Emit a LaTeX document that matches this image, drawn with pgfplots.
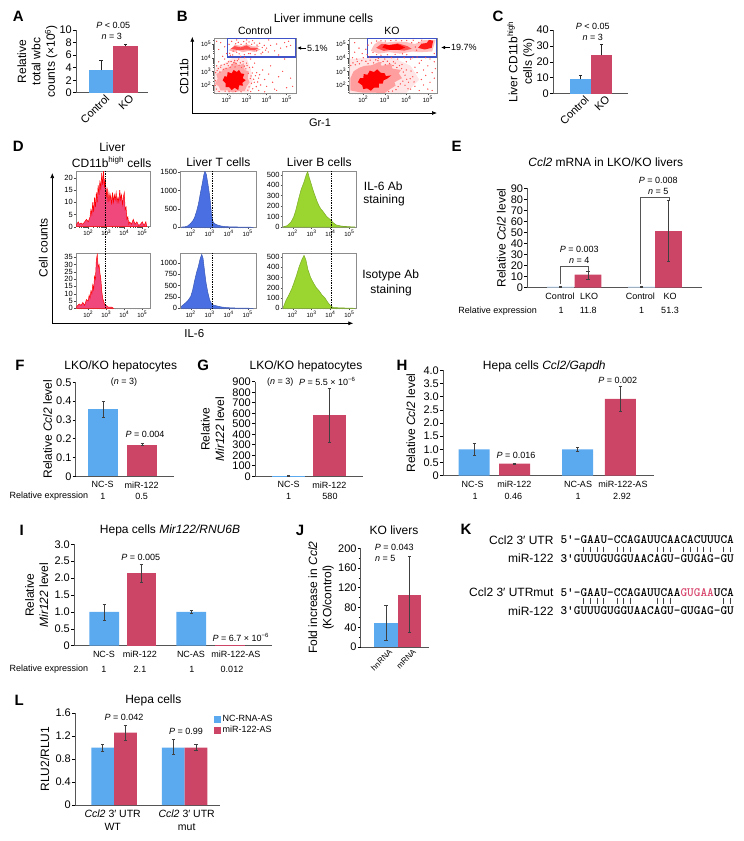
\documentclass[border=0pt]{standalone}
\usepackage{fontspec}
\setmainfont{Liberation Sans}
\usepackage{pgfplots}
\pgfplotsset{compat=1.18}
\usetikzlibrary{arrows.meta}

\definecolor{mblue}{HTML}{5BA9EF}
\definecolor{mred}{HTML}{CC4566}
\definecolor{gate}{HTML}{3F52C8}
\definecolor{hpink}{HTML}{F0487C}
\definecolor{hblue}{HTML}{4A6FE3}
\definecolor{hgreen}{HTML}{9AD62F}
\definecolor{axgray}{HTML}{555555}
\definecolor{framegray}{HTML}{8C8C8C}

\newcommand{\fs}[1]{\fontsize{#1}{\dimexpr #1pt*6/5\relax}\selectfont}
\newcommand{\Pv}{\textit{P}}
\newcommand{\Nv}{\textit{n}}
\newcommand{\logminor}{1.48,1.6,1.7,1.78,1.85,1.9,1.95,2.3,2.48,2.6,2.7,2.78,2.85,2.9,2.95,3.3,3.48,3.6,3.7,3.78,3.85,3.9,3.95,4.3,4.48,4.6,4.7,4.78,4.85,4.9,4.95,5.3}

\pgfplotsset{
  barax/.style={
    scale only axis, axis lines=left, axis line style={-,line width=0.8pt,color=axgray},
    enlargelimits=false, clip=false,
    /pgf/number format/assume math mode=true,
    tick style={color=black,line width=0.6pt}, major tick length=3pt, tick align=outside,
    x tick style={draw=none}, xtick pos=bottom, ytick pos=left,
    yticklabel style={font=\fs{11},inner sep=1pt},
    xticklabel style={font=\fs{9},inner sep=2pt},
    ylabel style={font=\fs{12},align=center,inner sep=1pt},
  },
  rotlab/.style={xticklabel style={font=\fs{11},rotate=45,anchor=north east,inner sep=1pt,xshift=5pt}},
  errs/.style={
    error bars/y dir=both, error bars/y explicit,
    error bars/error bar style={line width=0.6pt,color=black!75},
    error bars/error mark options={rotate=90,mark size=1.7pt,line width=0.6pt,color=black!75},
  },
  errup/.style={
    error bars/y dir=plus, error bars/y explicit,
    error bars/error bar style={line width=0.8pt,color=black!85},
    error bars/error mark options={rotate=90,mark size=1.7pt,line width=0.8pt,color=black!85},
  },
  bluebar/.style={ybar,bar width=#1,bar shift=0pt,fill=mblue,draw=none,forget plot},
  redbar/.style={ybar,bar width=#1,bar shift=0pt,fill=mred,draw=none,forget plot},
  flowax/.style={
    scale only axis, enlargelimits=false, clip=true,
    axis line style={color=framegray,line width=0.8pt},
    tick style={color=black!70,line width=0.3pt}, tick align=outside,
    major tick length=2pt, minor tick length=1pt,
    xtick={2,3,4,5}, ytick={2,3,4,5}, minor xtick=\logminor, minor ytick=\logminor,
    xtick pos=bottom, ytick pos=left,
    xticklabels={10\textsuperscript{2},10\textsuperscript{3},10\textsuperscript{4},10\textsuperscript{5}},
    yticklabels={10\textsuperscript{2},10\textsuperscript{3},10\textsuperscript{4},10\textsuperscript{5}},
    ticklabel style={font=\fs{6},inner sep=1pt},
  },
  histax/.style={
    scale only axis, enlargelimits=false, clip=true,
    axis line style={color=framegray,line width=0.8pt},
    /pgf/number format/assume math mode=true,
    /pgf/number format/1000 sep={},
    tick style={color=black!70,line width=0.3pt}, tick align=outside,
    major tick length=2pt, minor tick length=1pt,
    xtick={2,3,4,5}, minor xtick=\logminor,
    xtick pos=bottom, ytick pos=left,
    xticklabels={10\textsuperscript{2},10\textsuperscript{3},10\textsuperscript{4},10\textsuperscript{5}},
    ticklabel style={font=\fs{7.5},inner sep=1pt},
    xticklabel style={font=\fs{6}},
    ymin=0,
  },
  dots/.style={only marks,mark=*,mark size=0.4pt,color=red!70,mark options={draw=none}},
}

\begin{document}
\begin{tikzpicture}[x=1pt,y=-1pt]
\path[use as bounding box] (0,0) rectangle (744,841);

% ---------- A
\begin{axis}[barax,rotlab,at={(76pt,-92.7pt)},anchor=south west,width=72pt,height=62.7pt,
  xmin=76,xmax=148,ymin=0,ymax=10,ytick={0,2,4,6,8,10},
  xtick={101,125.5},xticklabels={Control,KO},
  ylabel={Relative\\total wbc\\counts (×10\textsuperscript{6})}]
\addplot[bluebar=24.6pt,errup] coordinates {(101,3.6) +- (0,1.6)};
\addplot[redbar=24.4pt,errup] coordinates {(125.5,7.4) +- (0,0.3)};
\end{axis}

% ---------- B
\begin{axis}[flowax,at={(214.3pt,-93.3pt)},anchor=south west,width=81.7pt,height=55pt,
  xmin=1.38,xmax=5.47,ymin=1.39,ymax=5.42]
\addplot[fill=red!10,draw=none] coordinates {(1.4,1.45)(3.1,1.45)(3.3,2.3)(3.2,3.2)(3.0,3.95)(2.3,4.0)(1.9,3.6)(1.4,3.2)} --cycle;
\addplot[fill=red!35,draw=none] coordinates {(1.42,2.1)(1.6,1.9)(1.7,1.6)(2.0,1.62)(2.3,1.45)(2.6,1.55)(2.9,1.55)(3.0,1.9)(3.15,2.2)(3.05,2.5)(3.1,3.0)(2.9,3.1)(2.85,3.6)(2.6,3.4)(2.4,3.75)(2.15,3.3)(1.85,3.2)(1.75,3.0)(1.48,2.8)(1.55,2.45)} --cycle;
\addplot[fill=red,draw=none] coordinates {(1.8,2.35)(1.9,2.65)(2.02,2.6)(2.05,2.95)(2.25,2.85)(2.35,3.1)(2.5,2.95)(2.62,3.1)(2.72,2.85)(2.88,2.8)(2.8,2.5)(2.95,2.35)(2.78,2.15)(2.82,1.95)(2.62,1.98)(2.58,1.62)(2.4,1.8)(2.25,1.62)(2.12,1.85)(1.95,1.85)(1.95,2.12)} --cycle;
\addplot[fill=red!30,draw=none] coordinates {(2.1,4.55)(2.4,4.4)(2.55,4.55)(2.8,4.4)(3.1,4.5)(3.4,4.42)(3.7,4.6)(3.5,4.7)(3.65,4.85)(3.3,4.82)(3.0,5.0)(2.75,4.85)(2.4,4.95)(2.3,4.75)} --cycle;
\addplot[fill=red!70,draw=none] coordinates {(2.2,4.65)(2.6,4.55)(3.0,4.6)(3.4,4.55)(3.6,4.7)(3.2,4.72)(3.0,4.9)(2.7,4.75)(2.4,4.85)} --cycle;
\addplot[dots] coordinates {(1.5,3.4)(1.6,3.7)(1.7,3.3)(1.8,4.1)(1.9,3.9)(2.0,4.3)(2.1,3.7)(2.3,4.2)(2.4,3.8)(2.5,4.4)(2.6,3.9)(2.7,4.1)(2.9,4.0)(3.0,3.6)(3.1,4.3)(3.2,3.9)(3.3,3.3)(3.4,3.6)(3.5,2.9)(3.6,2.5)(3.7,2.0)(3.8,3.1)(3.9,2.4)(4.0,1.9)(4.1,2.8)(4.2,3.4)(4.3,2.2)(4.4,1.7)(4.6,2.6)(4.8,3.0)(5.0,1.8)(5.2,2.5)(3.5,4.5)(3.8,4.4)(4.0,4.7)(4.2,4.9)(4.4,4.5)(4.5,5.0)(4.7,4.7)(4.9,5.1)(5.0,4.8)(5.1,5.2)(5.2,4.9)(4.6,4.2)(4.9,3.9)(3.0,5.3)(2.5,5.3)(1.6,4.6)(1.7,5.1)(1.9,4.8)(1.5,5.2)(3.3,5.25)(4.1,5.3)(3.6,1.6)(3.9,1.5)(4.5,1.6)(5.3,1.9)
(1.45,2.9)(1.52,3.05)(1.58,3.2)(1.66,2.95)(1.72,3.45)(1.83,3.15)(1.88,3.5)(1.97,3.22)(2.02,3.58)(2.08,3.41)(2.17,3.3)(2.22,3.72)(2.27,3.48)(2.36,3.66)(2.42,3.32)(2.47,3.58)(2.53,3.78)(2.62,3.45)(2.68,3.62)(2.74,3.28)(2.82,3.72)(2.88,3.38)(2.96,3.18)(3.02,3.42)(3.08,2.86)(3.14,3.28)(3.22,2.66)(3.18,2.48)(3.28,2.88)(3.35,2.42)(3.24,2.12)(3.38,2.2)(3.44,2.68)(3.12,1.86)(3.3,1.72)(3.06,1.62)(3.2,1.52)(3.48,1.88)(3.55,2.22)(3.65,2.75)(2.72,1.5)(2.45,1.52)(2.12,1.5)(1.92,1.55)(1.62,1.52)(1.48,1.7)(1.42,1.98)(1.44,2.32)
(2.15,4.32)(2.32,4.48)(2.45,5.02)(2.58,5.12)(2.72,4.98)(2.85,5.18)(2.98,5.06)(3.12,5.15)(3.25,4.98)(3.38,5.08)(3.52,4.92)(3.65,5.06)(3.78,4.75)(3.88,4.9)(3.95,4.55)(4.08,4.42)(2.25,5.2)(2.12,4.98)(2.18,4.18)(2.62,4.28)(2.88,4.22)(3.18,4.3)(3.42,4.22)(3.72,4.28)} ;
\addplot[draw=gate,line width=1.2pt,clip=false] coordinates {(2.05,5.42)(5.47,5.42)(5.47,4.05)(2.05,4.05)} --cycle;
\end{axis}

\begin{axis}[flowax,at={(349.3pt,-93.3pt)},anchor=south west,width=88pt,height=55pt,
  xmin=1.35,xmax=5.44,ymin=1.39,ymax=5.42]
\addplot[fill=red!10,draw=none] coordinates {(1.36,1.42)(4.0,1.42)(4.6,2.4)(4.2,3.4)(3.4,4.0)(2.4,4.0)(1.36,3.9)} --cycle;
\addplot[fill=red!38,draw=none] coordinates {(1.4,1.6)(1.9,1.45)(3.0,1.42)(3.25,1.7)(3.5,1.95)(3.45,2.2)(3.8,2.5)(3.65,2.85)(3.75,3.1)(3.35,3.2)(3.3,3.55)(2.85,3.4)(2.75,3.7)(2.4,3.45)(2.05,3.4)(1.8,3.25)(1.55,3.0)(1.4,2.5)} --cycle;
\addplot[fill=red,draw=none] coordinates {(1.75,2.2)(1.85,2.5)(2.0,2.5)(2.02,2.8)(2.2,2.75)(2.3,3.05)(2.5,2.95)(2.65,3.15)(2.8,2.9)(3.0,2.85)(3.05,2.65)(3.3,2.7)(3.1,2.45)(2.95,2.35)(2.9,2.1)(2.72,2.1)(2.72,1.8)(2.5,1.8)(2.35,1.58)(2.18,1.75)(2.0,1.7)(1.95,1.98)} --cycle;
\addplot[fill=red!25,draw=none] coordinates {(2.35,4.5)(2.7,4.3)(3.2,4.4)(3.7,4.3)(4.3,4.45)(4.6,4.4)(5.2,4.45)(5.36,5.3)(4.8,5.28)(4.4,5.0)(4.0,5.15)(3.5,5.18)(3.1,5.12)(2.7,5.2)(2.5,4.95)} --cycle;
\addplot[fill=red!70,draw=none] coordinates {(2.6,4.72)(2.95,4.5)(3.4,4.6)(3.9,4.52)(4.25,4.65)(4.05,4.85)(3.6,5.05)(3.2,4.92)(2.85,5.02)} --cycle;
\addplot[fill=red,draw=none] coordinates {(2.88,4.75)(3.2,4.58)(3.7,4.58)(3.95,4.75)(3.6,5.0)(3.2,4.92)(3.0,4.98)} --cycle;
\addplot[fill=red!90,draw=none] coordinates {(4.55,4.72)(4.85,4.6)(5.18,4.72)(5.25,5.25)(5.05,5.3)(4.95,5.08)(4.7,5.02)} --cycle;
\addplot[dots] coordinates {(1.5,4.0)(1.6,4.4)(1.7,3.9)(1.8,4.7)(1.6,5.1)(3.4,3.7)(3.6,3.9)(3.8,3.5)(4.0,3.7)(4.2,3.9)(4.4,3.3)(4.6,3.6)(4.8,3.1)(5.0,3.4)(5.2,2.9)(4.3,2.6)(4.5,2.9)(4.7,2.4)(4.9,2.7)(5.1,2.2)(5.3,2.5)(4.4,1.9)(4.6,1.6)(4.8,2.0)(5.0,1.7)(5.2,1.6)(4.2,1.7)(4.1,2.2)(4.0,3.1)(3.9,4.0)(3.3,4.0)(3.0,3.9)(2.7,3.95)(2.3,4.05)(2.0,4.0)(4.3,4.0)(4.5,4.05)(4.7,3.8)(4.9,4.0)(5.1,3.9)(5.3,3.7)(5.35,3.2)
(1.42,3.42)(1.52,3.62)(1.63,3.48)(1.72,3.72)(1.82,3.55)(1.93,3.78)(2.12,3.74)(2.22,3.56)(2.32,3.82)(2.48,3.62)(2.58,3.84)(2.68,3.78)(2.82,3.62)(2.92,3.72)(3.02,3.48)(3.12,3.74)(3.22,3.58)(3.38,3.42)(3.48,3.6)(3.56,3.28)(3.68,3.42)(3.78,3.2)(3.86,2.95)(3.94,2.72)(4.02,2.42)(3.84,2.28)(3.72,2.08)(3.62,1.88)(3.52,1.66)(3.36,1.55)(3.18,1.52)(3.94,1.98)(4.08,1.72)(4.18,2.46)(4.22,3.02)(4.36,2.22)
(1.95,4.3)(2.12,4.62)(2.22,4.92)(2.38,5.08)(2.45,4.38)(2.62,5.22)(2.82,5.24)(3.02,5.22)(3.28,5.26)(3.52,5.28)(3.78,5.24)(4.02,5.26)(4.25,5.1)(4.42,4.78)(4.48,4.55)(4.32,5.28)(4.58,5.12)(4.72,5.28)(3.82,4.28)(4.02,4.22)(3.48,4.24)(3.12,4.22)(2.82,4.18)(2.62,4.22)(2.18,4.22)(5.3,4.3)} ;
\addplot[draw=gate,line width=1.2pt,clip=false] coordinates {(2.2,5.42)(5.4,5.42)(5.4,4.05)(2.2,4.05)} --cycle;
\end{axis}

% ---------- C
\begin{axis}[barax,rotlab,at={(553pt,-93.7pt)},anchor=south west,width=74.7pt,height=63.7pt,
  xmin=553,xmax=627.7,ymin=0,ymax=40,ytick={0,10,20,30,40},
  xtick={580.5,601.5},xticklabels={Control,KO},
  ylabel={Liver CD11b\textsuperscript{high}\\cells (\%)}]
\addplot[bluebar=21pt,errup] coordinates {(580.5,9) +- (0,2.5)};
\addplot[redbar=21pt,errup] coordinates {(601.5,24) +- (0,7)};
\end{axis}

% ---------- D histograms
\begin{axis}[histax,at={(76pt,-226.7pt)},anchor=south west,width=74pt,height=55.7pt,
  xmin=1.32,xmax=5.43,ymax=22.8,ytick={0,5,10,15,20}]
\addplot[fill=hpink,draw=red,line width=0.5pt] coordinates {(1.35,1)(1.45,2)(1.5,1)(1.6,1.5)(1.7,1)(1.8,2)(1.9,3)(2.0,2)(2.1,4)(2.15,7)(2.2,5)(2.25,10)(2.3,6)(2.35,12)(2.4,8)(2.45,14)(2.5,10)(2.55,17)(2.6,13)(2.65,19)(2.7,15)(2.75,22)(2.8,17)(2.85,23)(2.9,16)(2.95,20)(3.0,12)(3.05,16)(3.1,10)(3.15,14)(3.2,11)(3.25,13)(3.3,9)(3.35,14)(3.4,10)(3.45,13)(3.5,11)(3.55,14)(3.6,10)(3.65,12)(3.7,10)(3.75,15)(3.8,11)(3.85,13)(3.9,9)(3.95,12)(4.0,14)(4.05,7)(4.1,8)(4.15,3)(4.2,4)(4.25,1)(4.3,2)(4.4,1)(4.5,3)(4.6,1)(4.7,2)(4.8,0.5)(4.9,1)(5.0,2)(5.1,0.5)(5.2,2)(5.25,0)} \closedcycle;
\end{axis}
\begin{axis}[histax,at={(76pt,-308.3pt)},anchor=south west,width=74pt,height=55pt,
  xmin=1.32,xmax=5.43,ymax=37.7,ytick={0,5,10,15,20,25,30,35}]
\addplot[fill=hpink,draw=red,line width=0.5pt] coordinates {(1.35,1)(1.5,3)(1.6,2)(1.7,4)(1.8,2)(1.9,6)(2.0,5)(2.05,9)(2.1,7)(2.15,12)(2.2,10)(2.25,16)(2.3,13)(2.35,22)(2.4,20)(2.45,33)(2.5,37)(2.55,28)(2.6,30)(2.65,24)(2.7,20)(2.75,12)(2.8,7)(2.85,5)(2.9,3)(2.95,2)(3.0,2)(3.1,0.8)(3.3,0.8)(3.4,0)} \closedcycle;
\end{axis}
\begin{axis}[histax,at={(180.3pt,-227.3pt)},anchor=south west,width=75.7pt,height=56.3pt,
  xmin=1.45,xmax=5.44,ymax=1530,ytick={0,500,1000,1500}]
\addplot[fill=hblue,draw=hblue!80!black,line width=0.5pt] coordinates {(1.5,5)(1.7,15)(1.85,40)(2.0,110)(2.1,170)(2.2,260)(2.3,420)(2.4,620)(2.5,900)(2.6,1170)(2.7,1450)(2.75,1520)(2.82,1440)(2.9,1200)(3.0,850)(3.05,600)(3.1,330)(3.17,160)(3.25,100)(3.4,65)(3.6,35)(3.8,20)(4.1,12)(4.5,8)(5.0,4)(5.3,0)} \closedcycle;
\end{axis}
\begin{axis}[histax,at={(180.3pt,-308.3pt)},anchor=south west,width=75.7pt,height=55pt,
  xmin=1.45,xmax=5.44,ymax=1213,ytick={0,250,500,750,1000}]
\addplot[fill=hblue,draw=hblue!80!black,line width=0.5pt] coordinates {(1.5,40)(1.7,110)(1.85,170)(2.0,260)(2.1,400)(2.2,600)(2.3,780)(2.4,920)(2.5,1100)(2.58,1190)(2.65,1100)(2.72,850)(2.8,580)(2.9,350)(3.0,180)(3.1,100)(3.2,70)(3.4,50)(3.6,30)(3.9,15)(4.3,7)(4.8,3)(5.3,0)} \closedcycle;
\end{axis}
\begin{axis}[histax,at={(282.7pt,-227pt)},anchor=south west,width=74pt,height=56pt,
  xmin=1.47,xmax=5.39,ymax=535,ytick={0,100,200,300,400,500}]
\addplot[fill=hgreen,draw=hgreen!80!black,line width=0.5pt] coordinates {(1.5,3)(1.7,12)(1.9,45)(2.05,95)(2.15,150)(2.3,260)(2.45,360)(2.6,430)(2.7,490)(2.79,530)(2.88,470)(3.0,400)(3.1,340)(3.2,290)(3.3,240)(3.4,200)(3.5,170)(3.6,150)(3.7,125)(3.8,100)(3.9,85)(4.03,65)(4.15,40)(4.3,20)(4.6,8)(5,3)(5.3,0)} \closedcycle;
\end{axis}
\begin{axis}[histax,at={(282.7pt,-308.3pt)},anchor=south west,width=74pt,height=55pt,
  xmin=1.47,xmax=5.39,ymax=535,ytick={0,100,200,300,400,500}]
\addplot[fill=hgreen,draw=hgreen!80!black,line width=0.5pt] coordinates {(1.5,10)(1.65,80)(1.8,130)(1.95,190)(2.07,250)(2.2,320)(2.35,410)(2.5,480)(2.6,515)(2.7,470)(2.8,380)(2.95,300)(3.09,250)(3.25,200)(3.4,170)(3.55,130)(3.71,100)(3.85,60)(4.0,25)(4.15,8)(4.5,4)(5.0,2)(5.3,0)} \closedcycle;
\end{axis}

% ---------- E
\begin{axis}[barax,at={(527.3pt,-287.7pt)},anchor=south west,width=174.4pt,height=99.4pt,
  xmin=527.3,xmax=701.7,ymin=0,ymax=90,ytick={0,10,...,90},
  xtick={560,589,640.3,670},xticklabels={Control,LKO,Control,KO},
  ylabel shift=3pt,
  ylabel={Relative \textit{Ccl2} level}]
\addplot[ybar,bar width=26.6pt,bar shift=0pt,fill=mblue!35,draw=none,forget plot,errs] coordinates {(560.5,1) +- (0,0.6) (641.5,1) +- (0,0.6)};
\addplot[redbar=26.6pt,errs] coordinates {(588,11.8) += (0,3.2) -= (0,3.8) (668.5,51.3) += (0,27.7) -= (0,27.3)};
\addplot[color=axgray,line width=0.6pt,forget plot] coordinates {(560,3)(560,19)(588.3,19)(588.3,15.5)};
\addplot[color=axgray,line width=0.6pt,forget plot] coordinates {(640.3,3)(640.3,81.8)(669.3,81.8)(669.3,79)};
\end{axis}

% ---------- F
\begin{axis}[barax,at={(75.7pt,-476.3pt)},anchor=south west,width=98.3pt,height=94pt,
  xmin=75.7,xmax=174,ymin=0,ymax=0.5,ytick={0,0.1,0.2,0.3,0.4,0.5},
  yticklabels={0,0.1,0.2,0.3,0.4,0.5},
  xtick={102.7,141.7},xticklabels={NC-S,miR-122},
  ylabel shift=2pt,
  ylabel={Relative \textit{Ccl2} level}]
\addplot[bluebar=29.7pt,errs] coordinates {(103.2,0.357) += (0,0.043) -= (0,0.042)};
\addplot[redbar=29.7pt,errs] coordinates {(142.2,0.168) += (0,0.007) -= (0,0.003)};
\end{axis}

% ---------- G
\begin{axis}[barax,at={(255pt,-476.3pt)},anchor=south west,width=108.3pt,height=94.6pt,
  xmin=255,xmax=363.3,ymin=0,ymax=900,ytick={0,100,...,900},
  xtick={288.7,329.5},xticklabels={NC-S,miR-122},
  ylabel shift=6pt,
  ylabel={Relative\\\textit{Mir122} level}]
\addplot[bluebar=33pt,errs] coordinates {(288.7,1) += (0,4) -= (0,1)};
\addplot[redbar=33.3pt,errs] coordinates {(329.3,580) += (0,260) -= (0,260)};
\end{axis}

% ---------- H
\begin{axis}[barax,at={(443pt,-475.7pt)},anchor=south west,width=210.7pt,height=105.4pt,
  xmin=443,xmax=653.7,ymin=0,ymax=4,ytick={0,0.5,...,4},
  yticklabels={0,0.5,1.0,1.5,2.0,2.5,3.0,3.5,4.0},
  xtick={472.7,514.3,578,623},xticklabels={NC-S,miR-122,NC-AS,miR-122-AS},
  ylabel shift=6pt,
  ylabel={Relative \textit{Ccl2} level}]
\addplot[bluebar=31pt,errs] coordinates {(474.2,1.0) += (0,0.23) -= (0,0.22) (577.7,1.0) += (0,0.07) -= (0,0.07)};
\addplot[redbar=31pt,errs] coordinates {(514.5,0.46) += (0,0.02) -= (0,0.02) (620.3,2.92) += (0,0.48) -= (0,0.48)};
\end{axis}

% ---------- I
\begin{axis}[barax,at={(74pt,-645.7pt)},anchor=south west,width=198.3pt,height=101.4pt,
  xmin=74,xmax=272.3,ymin=0,ymax=3,ytick={0,0.5,...,3},
  yticklabels={0,0.5,1.0,1.5,2.0,2.5,3.0},
  xtick={104,140,191,236},xticklabels={NC-S,miR-122,NC-AS,miR-122-AS},
  ylabel shift=4pt,
  ylabel={Relative\\\textit{Mir122} level}]
\addplot[bluebar=29.7pt,errs] coordinates {(104.2,1.0) += (0,0.22) -= (0,0.24) (191.2,1.0) += (0,0.05) -= (0,0.05)};
\addplot[redbar=29.3pt,errs] coordinates {(141.3,2.14) += (0,0.26) -= (0,0.27)};
\addplot[redbar=30pt] coordinates {(230,0.012)};
\end{axis}

% ---------- J
\begin{axis}[barax,at={(360.7pt,-647pt)},anchor=south west,width=68.6pt,height=98.7pt,
  xmin=360.7,xmax=429.3,ymin=0,ymax=200,ytick={0,40,...,200},minor ytick={20,60,100,140,180},
  minor tick length=2pt,
  xticklabel style={font=\fs{8},rotate=45,anchor=north east,inner sep=1pt,xshift=4pt},
  xtick={385.7,409.7},xticklabels={hnRNA,mRNA},
  ylabel shift=2pt,
  ylabel={Fold increase in \textit{Ccl2}\\(KO/control)}]
\addplot[bluebar=24pt,errs] coordinates {(386,49) += (0,35.5) -= (0,35.5)};
\addplot[redbar=23.3pt,errs] coordinates {(409.7,106) += (0,78) -= (0,77)};
\end{axis}

% ---------- L
\begin{axis}[barax,at={(75pt,-805pt)},anchor=south west,width=145pt,height=92pt,
  xmin=75,xmax=220,ymin=0,ymax=1.6,ytick={0,0.4,0.8,1.2,1.6},
  yticklabels={0,0.4,0.8,1.2,1.6},
  xtick={112.7,186.7},
  xticklabels={\textit{Ccl2} 3′ UTR\\WT,\textit{Ccl2} 3′ UTR\\mut},
  xticklabel style={font=\fs{10.5},align=center,inner sep=2pt},
  legend style={draw=none,fill=none,at={(1,1)},anchor=north west,font=\fs{9},
    row sep=-1pt,inner sep=0pt,xshift=-6pt,cells={anchor=west}},
  ylabel shift=4pt,
  ylabel={RLU2/RLU1}]
\addlegendimage{only marks,mark=square*,mark size=3.2pt,color=mblue}
\addlegendentry{NC-RNA-AS}
\addlegendimage{only marks,mark=square*,mark size=3.2pt,color=mred}
\addlegendentry{miR-122-AS}
\addplot[bluebar=22.7pt,errs] coordinates {(102.7,1.0) += (0,0.06) -= (0,0.06) (173.3,1.0) += (0,0.14) -= (0,0.11)};
\addplot[redbar=22.7pt,errs] coordinates {(125.4,1.26) += (0,0.13) -= (0,0.13) (196,1.0) += (0,0.05) -= (0,0.05)};
\end{axis}

% ---------- lines and arrows
\draw[-{Latex[length=5pt,width=4pt]},line width=0.7pt] (192.3,113) -- (192.3,36.7);
\draw[-{Latex[length=5pt,width=4pt]},line width=0.7pt] (192.3,113) -- (437,113);
\draw[-{Latex[length=5pt,width=4pt]},line width=0.7pt] (52.3,323.3) -- (52.3,173);
\draw[-{Latex[length=5pt,width=4pt]},line width=0.7pt] (52.3,323.3) -- (353.3,323.3);
\draw[-{Latex[length=4pt,width=3.5pt]},line width=0.9pt] (306,48) -- (297,48);
\draw[-{Latex[length=4pt,width=3.5pt]},line width=0.9pt] (450,47.5) -- (441,47.5);
\draw[densely dotted,line width=0.7pt] (105.3,171) -- (105.3,308.3);
\draw[densely dotted,line width=0.7pt] (212.7,171) -- (212.7,227.3);
\draw[densely dotted,line width=0.7pt] (212.7,253.3) -- (212.7,308.3);
\draw[densely dotted,line width=0.7pt] (331,171) -- (331,308.3);

% ---------- panel letters
\foreach \t/\x/\y in {A/18.3/16.7,B/182.3/16,C/498/16,D/18.3/146.7,E/456.7/146.7,F/20/365,G/203.3/365,H/402/365,I/21.7/530,J/300/530,K/466/529.3,L/19.3/700}
  \node[font=\fs{15}\bfseries] at (\x,\y) {\t};

% ---------- titles and notes
\tikzset{s/.style={font=\fs{9},inner sep=0pt},t/.style={font=\fs{12},inner sep=0pt},r/.style={font=\fs{9},inner sep=0pt}}
\node[s] at (113.3,25.7) {\Pv{} < 0.05};
\node[s] at (111.7,36) {\Nv{} = 3};
\node[s] at (592.7,26) {\Pv{} < 0.05};
\node[s] at (592.7,37) {\Nv{} = 3};
\node[t] at (323.5,18) {Liver immune cells};
\node[t,font=\fs{10.5}] at (255,31) {Control};
\node[t,font=\fs{10.5}] at (392,31) {KO};
\node[t,rotate=90] at (184,76.7) {CD11b};
\node[t,font=\fs{11}] at (320,122.7) {Gr-1};
\node[s,anchor=west] at (307,48) {5.1\%};
\node[s,anchor=west] at (451,47.5) {19.7\%};

\node[t] at (112.3,147.3) {Liver};
\node[t] at (111.7,162.3) {CD11b\textsuperscript{high} cells};
\node[t] at (218.3,162) {Liver T cells};
\node[t] at (319.3,162) {Liver B cells};
\node[t] at (383.3,186) {IL-6 Ab};
\node[t] at (384,200.7) {staining};
\node[t] at (390.7,275) {Isotype Ab};
\node[t] at (391,290) {staining};
\node[t,rotate=90] at (43.3,247.7) {Cell counts};
\node[t,font=\fs{11.5}] at (194.3,333.3) {IL-6};

\node[t] at (605.7,162.3) {\textit{Ccl2} mRNA in LKO/KO livers};
\node[s] at (658.3,180) {\Pv{} = 0.008};
\node[s] at (658.3,191.7) {\Nv{} = 5};
\node[s] at (579.3,249.3) {\Pv{} = 0.003};
\node[s] at (579.3,260.7) {\Nv{} = 4};
\node[r] at (497.7,310.7) {Relative expression};
\node[r] at (561,310.7) {1};
\node[r] at (588.3,310.7) {11.8};
\node[r] at (641.7,310.7) {1};
\node[r] at (670,310.7) {51.3};

\node[t] at (120.7,366.7) {LKO/KO hepatocytes};
\node[s] at (124,381.7) {(\Nv{} = 3)};
\node[s] at (145,434.3) {\Pv{} = 0.004};
\node[r] at (49,496) {Relative expression};
\node[r] at (103,496) {1};
\node[r] at (141.7,496) {0.5};

\node[t] at (306,366.7) {LKO/KO hepatocytes};
\node[s] at (280.3,381.7) {(\Nv{} = 3)};
\node[s] at (327.3,381.7) {\Pv{} = 5.5 × 10\textsuperscript{−6}};
\node[r] at (288.7,496) {1};
\node[r] at (330,496) {580};

\node[t] at (544.3,366.7) {Hepa cells \textit{Ccl2/Gapdh}};
\node[s] at (617.7,380) {\Pv{} = 0.002};
\node[s] at (516,455.7) {\Pv{} = 0.016};
\node[r] at (475,496) {1};
\node[r] at (513.3,496) {0.46};
\node[r] at (578,496) {1};
\node[r] at (622,496) {2.92};

\node[t] at (170,530.7) {Hepa cells \textit{Mir122/RNU6B}};
\node[s] at (140.7,557.3) {\Pv{} = 0.005};
\node[s] at (240.7,637.3) {\Pv{} = 6.7 × 10\textsuperscript{−6}};
\node[r] at (49,669.3) {Relative expression};
\node[r] at (104,669.3) {1};
\node[r] at (140,669.3) {2.1};
\node[r] at (192,669.3) {1};
\node[r] at (232,669.3) {0.012};

\node[t] at (394,530.7) {KO livers};
\node[s] at (394.3,547.3) {\Pv{} = 0.043};
\node[s] at (385.3,558.3) {\Nv{} = 5};

\node[t] at (153.3,700.7) {Hepa cells};
\node[s] at (124,717.7) {\Pv{} = 0.042};
\node[s] at (186,731.7) {\Pv{} = 0.99};

% ---------- K sequences
\tikzset{seq/.style={font=\fs{12.7}\ttfamily\bfseries,anchor=west,inner sep=0pt},
  lab/.style={font=\fs{12},anchor=east,inner sep=0pt}}
\node[lab] at (553.7,540) {Ccl2 3′ UTR};
\node[seq] at (560.3,540) {5'-GAAU-CCAGAUUCAACACUUUCA};
\foreach \c in {3,4,5,6,8,9,10,14,15,16,18,19,20,21,22,24,25}
  \draw[line width=0.5pt,color=black!75] ({560.3+6.67*(\c+0.5)},546.5) -- ++(0,5.5);
\node[lab] at (553.7,558.3) {miR-122};
\node[seq] at (560.3,558.3) {3'GUUUGUGGUAACAGU-GUGAG-GU};
\node[lab] at (553.7,592.3) {Ccl2 3′ UTRmut};
\node[seq] at (560.3,592.3) {5'-GAAU-CCAGAUUCAA\textcolor{mred!70!hpink}{GUGAA}UCA};
\foreach \c in {3,4,5,6,8,9,10,14,15,16,24,25}
  \draw[line width=0.5pt,color=black!75] ({560.3+6.67*(\c+0.5)},598) -- ++(0,5.5);
\node[lab] at (553.7,611) {miR-122};
\node[seq] at (560.3,611) {3'GUUUGUGGUAACAGU-GUGAG-GU};
\end{tikzpicture}
\end{document}
